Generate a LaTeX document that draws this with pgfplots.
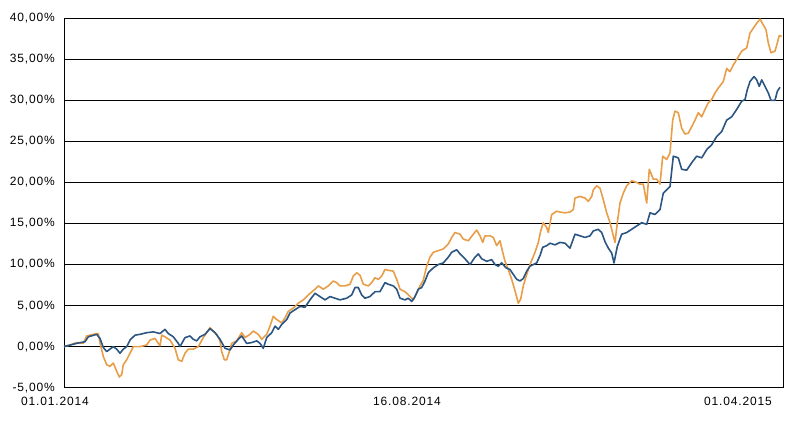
\documentclass[border=0pt]{standalone}
\usepackage{pgfplots}
\pgfplotsset{compat=1.18}
\usepackage{fontspec}
\setmainfont{Liberation Sans}[LetterSpace=7]
\definecolor{orangeline}{RGB}{232,158,72}
\definecolor{blueline}{RGB}{44,86,130}
\begin{document}
\begin{tikzpicture}
\begin{axis}[
  scale only axis, width=719pt, height=369.4pt,
  xmin=0, xmax=719, ymin=-5, ymax=40,
  axis line style={black, line width=0.8pt},
  ymajorgrids, grid style={black, line width=0.8pt},
  ytick={-5,0,5,10,15,20,25,30,35,40},
  yticklabels={{-5,00\%},{0,00\%},{5,00\%},{10,00\%},{15,00\%},{20,00\%},{25,00\%},{30,00\%},{35,00\%},{40,00\%}},
  xtick={0,343,674},
  xticklabels={{\hspace*{-18pt}01.01.2014},{16.08.2014},{01.04.2015}},
  major tick length=0pt,
  tick label style={font=\fontsize{12}{14}\selectfont, text=black},
  yticklabel style={inner sep=0pt, anchor=east, xshift=-9pt},
  xticklabel style={inner sep=0pt, anchor=north, yshift=-9pt},
  every axis plot/.append style={line width=1.6pt, line join=round},
  clip=true,
]
\addplot[orangeline, no marks] coordinates {
(0,0) (6,0.2) (12.7,0.5) (19.3,0.4) (22.7,1.3) (29.3,1.5) (34.3,1.6) (36.7,0.1)
(39.3,-1.2) (42.7,-2.2) (46,-2.4) (49.3,-2.0) (52.7,-3.0) (55.3,-3.7) (57.7,-3.4)
(59.3,-2.2) (62.7,-1.6) (66,-0.8) (69.3,0) (76,0) (82.7,0.2) (86,0.8) (91,1.0)
(96,0.1) (97.7,1.4) (101,1.2) (106,0.8) (111,-0.2) (114.3,-1.6) (117.7,-1.8)
(121,-0.8) (124.3,-0.3) (129.3,-0.3) (134.3,0) (139.3,1.1) (146,2.3) (149.3,1.9)
(152.7,1.5) (156,0.7) (157.7,-0.6) (160.3,-1.6) (162.7,-1.6) (165.3,-0.6) (167.7,0.4)
(172.7,0.7) (177.7,1.7) (181,1.1) (186,1.5) (189.3,1.9) (194.3,1.5) (197.7,0.9)
(202.7,1.5) (206,2.5) (209.3,3.7) (212.7,3.3) (217.7,2.9) (221,3.5) (224.3,4.3)
(229.3,4.7) (234.3,5.3) (239.3,5.7) (244.3,6.3) (251,7.0) (254.3,7.4) (259.3,7.0)
(264.3,7.4) (269.3,8.0) (272.7,7.8) (276,7.4) (281,7.4) (286,7.6) (289.3,8.6)
(292.7,9.0) (296,8.7) (299.3,7.6) (304.3,7.4) (307.7,7.8) (311,8.4) (314.3,8.2)
(317.7,8.6) (321,9.4) (324.3,9.3) (329.3,9.2) (332.7,8.2) (336,7.0) (341,6.7)
(346,6.1) (349.3,5.7) (352.7,6.5) (356,7.4) (359.3,8.1) (362.7,9.8) (366,10.9)
(369.3,11.5) (374.3,11.7) (379.3,11.9) (384.3,12.5) (387.7,13.3) (391,13.9) (396,13.7)
(399.3,13.1) (404.3,12.9) (409.3,13.7) (412.7,14.2) (416,13.5) (418.7,12.7) (421,13.5)
(426,13.5) (429.3,13.3) (432.7,12.3) (436,12.9) (438.7,11.5) (441,10.4) (444.3,9.4)
(447.7,8.2) (451,6.8) (454.3,5.3) (456.7,5.8) (459.3,7.4) (462.7,8.8) (466,10.0)
(471,11.5) (474.3,12.7) (476.7,14.1) (479.3,15.1) (482.7,14.5) (484.3,13.9) (487.7,16.1)
(492.7,16.5) (496,16.4) (501,16.3) (506,16.4) (509.3,16.7) (511,18.1) (516,18.3)
(521,18.1) (524.3,17.7) (527.7,18.3) (529.3,19.1) (532.7,19.6) (536,19.3) (539.3,17.9)
(542.7,16.3) (546,15.1) (549.3,13.5) (551,12.7) (553.3,15.1) (556,17.5) (559.3,18.7)
(562.7,19.6) (567.7,20.2) (572.7,20.0) (576,19.8) (579.3,19.8) (582.7,17.5) (585.3,21.6)
(589.3,20.4) (592.7,20.4) (596,19.8) (598.7,23.2) (602.7,22.8) (606,23.6) (608.7,27.6)
(611,28.7) (614.3,28.5) (617.7,26.6) (621,25.9) (624.3,26.0) (627.7,26.8) (631,27.6)
(634.3,28.5) (637.7,28.0) (641,28.9) (644.3,29.7) (647.7,30.1) (651,30.9) (654.3,31.5)
(659.3,32.3) (662.7,33.9) (666,33.5) (669.3,34.3) (674.3,35.3) (677.7,36.0) (682.7,36.4)
(686,38.2) (689.3,38.8) (692.7,39.4) (696,39.9) (699.3,39.2) (702,38.6) (704.3,37.0)
(707,35.8) (711,36.0) (713.3,37.0) (715.3,37.9) (717.7,37.8)
};
\addplot[blueline, no marks] coordinates {
(0,0) (12.7,0.4) (21,0.6) (24.3,1.2) (32.7,1.5) (36,1.0) (39.3,-0.1) (42.7,-0.6)
(46,-0.3) (49.3,0) (52.7,-0.3) (56,-0.8) (59.3,-0.3) (62.7,0) (66,0.8) (71,1.4)
(76,1.5) (82.7,1.7) (89.3,1.8) (96,1.6) (101,2.1) (104.3,1.6) (109.3,1.2) (114.3,0.4)
(116,0.0) (121,1.1) (126,1.3) (129.3,0.9) (132.7,0.7) (136,1.2) (141,1.5) (146,2.2)
(151,1.7) (156,0.9) (161,-0.2) (166,-0.4) (169.3,0.2) (174.3,0.9) (177.7,1.3) (182.7,0.4)
(187.7,0.5) (192.7,0.7) (196,0.4) (199.3,-0.2) (202.7,1.1) (207.7,1.7) (211,2.5)
(214.3,2.1) (217.7,2.7) (222.7,3.3) (226,4.1) (231,4.5) (236,4.9) (241,4.8) (246,5.7)
(251,6.5) (256,6.1) (261,5.7) (266,6.1) (271,5.9) (276,5.7) (282.7,5.9) (287.7,6.3)
(291,7.2) (294.3,7.2) (297.7,6.3) (301,5.9) (306,6.1) (311,6.7) (316,6.7) (321,7.8)
(324.3,7.6) (329.3,7.4) (332.7,7.0) (336,5.9) (341,5.7) (344.3,5.9) (347.7,5.5)
(351,6.1) (354.3,7.0) (357.7,7.2) (361,8.0) (364.3,9.0) (369.3,9.6) (374.3,10.0)
(379.3,10.2) (384.3,10.9) (387.7,11.5) (392.7,11.8) (396,11.3) (401,10.7) (406,10.0)
(411,10.9) (414.3,11.3) (417.7,10.7) (422.7,10.4) (427.7,10.6) (431,10.0) (434.3,9.8)
(437.7,10.2) (442,9.6) (446,9.4) (449.3,8.8) (452.7,8.2) (456,8.0) (459.3,8.3)
(462.7,9.2) (466,9.8) (469.3,10.0) (472.7,10.2) (476,11.1) (478.7,12.1) (482.7,12.3)
(486,12.6) (491,12.4) (496,12.7) (501,12.6) (506,12.0) (511,13.7) (516,13.5) (521,13.3)
(526,13.5) (529.3,14.1) (534.3,14.3) (537.7,13.9) (541,12.8) (544.3,12.0) (547.7,11.4)
(550,10.2) (553.3,12.2) (557.7,13.7) (562.7,13.9) (567.7,14.3) (572.7,14.7) (577.7,15.1)
(582.7,14.9) (586,16.3) (591,16.1) (596,16.7) (599.3,18.7) (604.3,19.3) (606,19.5)
(609.3,23.2) (614.3,23.0) (617.7,21.6) (622.7,21.5) (627.7,22.4) (632.7,23.2) (637.7,23.0)
(642.7,24.0) (647.7,24.6) (652.7,25.6) (657.7,26.2) (662.7,27.6) (667.7,28.0) (672.7,28.9)
(677.7,29.9) (681,30.1) (683.3,31.3) (686,32.3) (690,32.9) (692.7,32.5) (695.3,31.7)
(697.7,32.5) (701,31.7) (704.3,30.9) (707,30.0) (711,30.0) (713.3,31.1) (716,31.6)
};
\end{axis}
\path (current axis.south west) +(-64pt,-41.3pt) (current axis.north east) +(15pt,18.3pt);
\end{tikzpicture}
\end{document}
